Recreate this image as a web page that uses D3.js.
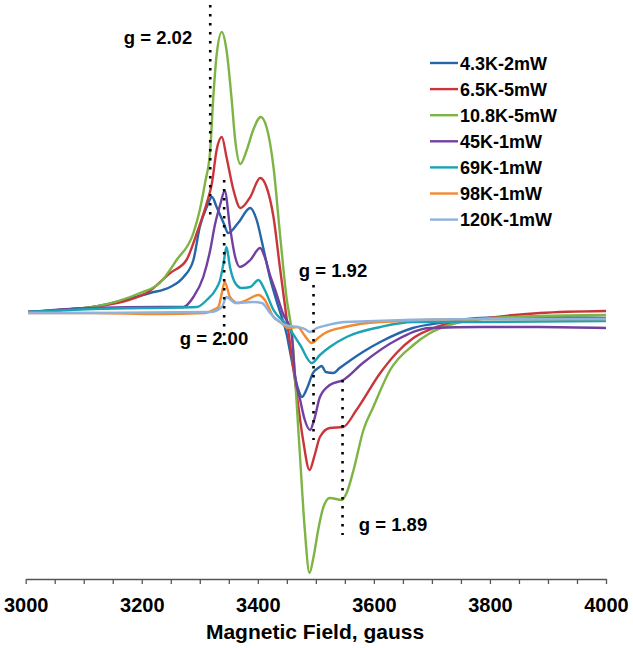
<!DOCTYPE html>
<html>
<head>
<meta charset="utf-8">
<script src="https://cdn.jsdelivr.net/npm/d3@7"></script>
<style>
  html, body { margin: 0; padding: 0; background: #fff; }
  svg { display: block; font-family: "Liberation Sans", Arial, sans-serif; }
</style>
</head>
<body>
<svg id="chart" width="633" height="648"></svg>
<script>
// ---- data (field in gauss, intensity in arbitrary units) ----
const seriesNames = ["4.3K-2mW", "6.5K-5mW", "10.8K-5mW", "45K-1mW", "69K-1mW", "98K-1mW", "120K-1mW"];
const seriesColors = ["#2466a8", "#c8363a", "#7db444", "#7140a0", "#1aa3b5", "#f28a30", "#8fb2dc"];

const field_4_3K = [3004,3059,3116,3214,3249,3272,3289,3300,3312,3321,3329,3341,3349,3366,3387,3398,3409,3421,3435,3450,3455,3470,3476,3485,3495,3504,3510,3517,3530,3541,3553,3581,3611,3667,3725,3783,3886,4000];
const signal_4_3K = [1,3,6,20,26,36,53,86,106,116,106,90,80,90,105,93,66,35,7,-22,-37,-77,-84,-75,-60,-55,-53,-59,-60,-55,-50,-39,-29,-15,-9,-5,-4,-5];

const field_6_5K = [3004,3059,3116,3208,3249,3277,3295,3312,3321,3329,3338,3346,3358,3370,3387,3404,3415,3427,3438,3450,3464,3478,3489,3498,3507,3524,3547,3570,3611,3639,3668,3708,3783,3886,4000];
const signal_6_5K = [1,3,6,20,40,53,80,110,130,163,176,156,123,105,116,135,126,96,46,-7,-67,-127,-157,-142,-124,-115,-114,-97,-60,-40,-25,-14,-6,0,2];

const field_10_8K = [3004,3059,3116,3197,3231,3260,3289,3300,3309,3318,3323,3329,3338,3346,3355,3361,3370,3381,3392,3405,3415,3427,3438,3450,3458,3472,3481,3489,3496,3504,3513,3524,3545,3553,3565,3582,3599,3628,3668,3697,3725,3783,3886,4000];
const signal_10_8K = [1,3,6,20,30,53,80,103,130,163,213,258,281,263,213,173,149,163,183,196,186,146,80,13,-17,-137,-217,-260,-244,-217,-194,-185,-187,-180,-157,-117,-94,-57,-32,-20,-13,-6,-3,-2];

const field_45K = [3004,3116,3231,3272,3289,3306,3318,3326,3335,3343,3352,3361,3369,3387,3404,3412,3421,3430,3443,3458,3464,3473,3481,3490,3497,3507,3524,3547,3581,3639,3697,3783,3886,4000];
const signal_45K = [1,5,6,6,16,36,63,88,108,122,86,56,46,53,65,56,38,23,0,-20,-62,-87,-107,-117,-107,-84,-72,-67,-50,-27,-15,-14,-14,-15];

const field_69K = [3004,3116,3295,3312,3329,3335,3341,3346,3352,3361,3372,3387,3401,3412,3427,3450,3473,3493,3507,3524,3553,3611,3667,3783,4000];
const signal_69K = [1,4,6,13,25,33,50,66,46,30,25,26,33,23,3,-12,-32,-50,-42,-34,-24,-14,-9,-9,-8];

const field_98K = [3004,3116,3231,3309,3323,3332,3338,3343,3352,3366,3381,3401,3412,3427,3441,3452,3469,3480,3493,3504,3516,3550,3611,3783,4000];
const signal_98K = [0,0,-1,0,3,6,20,31,16,10,13,18,13,-4,-10,-15,-14,-22,-30,-25,-20,-14,-9,-6,-6];

const field_120K = [3004,3116,3318,3338,3346,3361,3392,3407,3421,3438,3447,3469,3481,3490,3502,3521,3550,3783,4000];
const signal_120K = [0,0,1,6,16,10,11,10,0,-9,-12,-14,-16,-19,-15,-12,-9,-6,-6];

const seriesFields = [field_4_3K, field_6_5K, field_10_8K, field_45K, field_69K, field_98K, field_120K];
const seriesSignals = [signal_4_3K, signal_6_5K, signal_10_8K, signal_45K, signal_69K, signal_98K, signal_120K];

// g-value markers: label, field position, intensity span of the dotted guide
const gLabels = ["g = 2.02", "g = 2.00", "g = 1.92", "g = 1.89"];
const gFields = [3318, 3342, 3496, 3546];
const gSpanTop = [308, 133, 28, -67];
const gSpanBottom = [98, -34, -127, -222];

const xTicks = d3.range(3000, 4001, 50);
const xLabelTicks = [3000, 3200, 3400, 3600, 3800, 4000];
const xTitle = "Magnetic Field, gauss";

// ---- drawing ----
const svg = d3.select("#chart");
const x = d3.scaleLinear().domain([3000, 4000]).range([25.7, 606]);
const y = d3.scaleLinear().domain([-266, 290]).range([579, 23]);

// axis
const axis = d3.axisBottom(x)
  .tickValues(xTicks)
  .tickSize(5)
  .tickSizeOuter(0)
  .tickFormat(d => xLabelTicks.includes(d) ? String(d) : "");
const gAxis = svg.append("g").attr("transform", "translate(0,579)").call(axis);
gAxis.select(".domain").attr("stroke", "#555").attr("stroke-width", 1.5);
gAxis.selectAll(".tick line").attr("stroke", "#555").attr("stroke-width", 1.3);
gAxis.selectAll(".tick text")
  .attr("y", 19).attr("dy", "0.71em")
  .attr("fill", "#000")
  .style("font-family", "'Liberation Sans', Arial, sans-serif")
  .style("font-weight", "bold")
  .style("font-size", "20px");

svg.append("text")
  .attr("x", 315).attr("y", 639)
  .attr("text-anchor", "middle")
  .style("font-weight", "bold").style("font-size", "21px")
  .text(xTitle);

// series
const line = d3.line().x(d => x(d[0])).y(d => y(d[1])).curve(d3.curveMonotoneX);
seriesNames.forEach((name, i) => {
  const pts = seriesFields[i].map((f, j) => [f, seriesSignals[i][j]]);
  svg.append("path")
    .datum(pts)
    .attr("d", line)
    .attr("fill", "none")
    .attr("stroke", seriesColors[i])
    .attr("stroke-width", 2.4)
    .attr("stroke-linejoin", "round");
});

// g markers
const labelPos = [[158, 44], [214, 345], [333, 277], [393, 531]];
gLabels.forEach((lab, i) => {
  svg.append("line")
    .attr("x1", x(gFields[i])).attr("x2", x(gFields[i]))
    .attr("y1", y(gSpanTop[i])).attr("y2", y(gSpanBottom[i]))
    .attr("stroke", "#000")
    .attr("stroke-width", 2.6)
    .attr("stroke-dasharray", "2.6 6.4");
  svg.append("text")
    .attr("x", labelPos[i][0]).attr("y", labelPos[i][1])
    .attr("text-anchor", "middle")
    .style("font-weight", "bold").style("font-size", "18.5px")
    .text(lab);
});

// legend
const legend = svg.append("g").attr("transform", "translate(430,63)");
seriesNames.forEach((name, i) => {
  const g = legend.append("g").attr("transform", `translate(0,${i * 26.1})`);
  g.append("line").attr("x1", 0).attr("x2", 28).attr("y1", 0).attr("y2", 0)
    .attr("stroke", seriesColors[i]).attr("stroke-width", 2.4);
  g.append("text").attr("x", 30).attr("y", 6.5)
    .style("font-weight", "bold").style("font-size", "18px")
    .text(name);
});
</script>
</body>
</html>
